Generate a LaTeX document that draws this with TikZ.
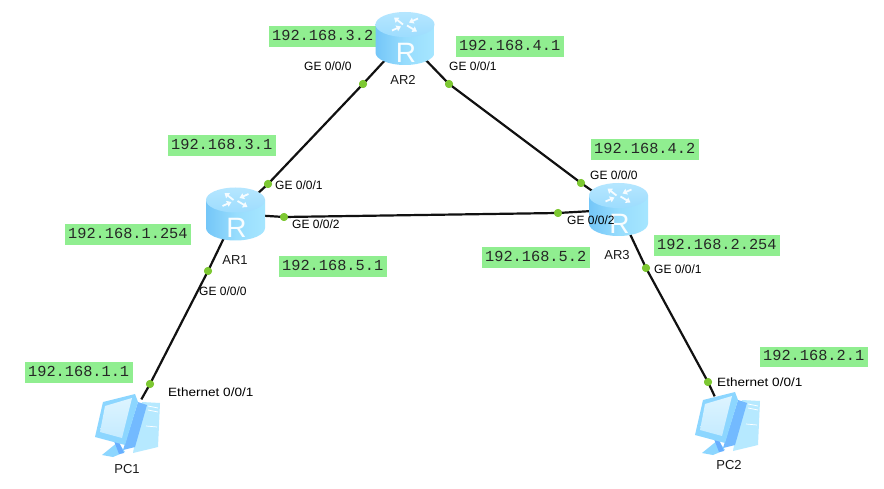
\documentclass[tikz,border=0pt]{standalone}
\usepackage{fontspec}
\setmainfont{Liberation Sans}
\newfontfamily\ipfont{Liberation Mono}
\usetikzlibrary{arrows.meta}
\definecolor{ipgreen}{HTML}{90EE90}
\definecolor{portdot}{HTML}{7DC832}
\definecolor{linkblack}{HTML}{111111}
\definecolor{rtop}{HTML}{A8E2FF}
\definecolor{rside}{HTML}{74C6F8}
\definecolor{rlight}{HTML}{A6E6FF}
\definecolor{pcframe}{HTML}{8CD6FF}
\definecolor{pcscreen}{HTML}{DDF4FF}
\definecolor{pcdark}{HTML}{68AEFF}
\definecolor{pcpale}{HTML}{B6E9FF}
\tikzset{
  ip/.style={fill=ipgreen,inner xsep=3.5pt,inner ysep=4pt,text height=10pt,text depth=2.5pt,font=\ipfont\fontsize{15.3}{15}\selectfont,anchor=west,text=black!85},
  port/.style={font=\fontsize{12}{12}\selectfont,anchor=west,inner sep=0pt,text=black},
  devname/.style={font=\fontsize{13}{13}\selectfont,inner sep=0pt,text=black!90},
  portdotnode/.style={circle,fill=portdot,minimum size=8pt,inner sep=0pt},
  anchorpt/.style={circle,minimum size=1pt,inner sep=0pt},
  link/.style={draw=linkblack,line width=2.2pt},
  routerarrow/.style={line width=1.8pt,draw=white!90!rtop,-{Triangle[length=4.5pt,width=6pt]}},
  router/.pic={
    % cylinder wall
    \path[left color=rside,right color=rlight,middle color=rlight!70!rside]
      (-29.5,-14) -- (-29.5,14) arc[start angle=180,end angle=0,x radius=29.5,y radius=12.5]
      -- (29.5,-14) -- cycle;
    % cylinder lid
    \path[top color=rtop!85!white,bottom color=rtop!80!rside]
      (0,-14) ellipse[x radius=29.5,y radius=12.5];
    \draw[routerarrow] (-2,-14) -- (-11,-21);
    \draw[routerarrow] (13,-20) -- (4,-16);
    \draw[routerarrow] (-13,-8) -- (-4,-12);
    \draw[routerarrow] (2,-13) -- (12,-7);
    \node[text=white!92!rtop,inner sep=0pt,font=\fontsize{28}{28}\selectfont] at (1,14) {R};
  },
  pcicon/.pic={
    % tower
    \path[fill=pcpale] (15,-26) -- (33,-25) -- (31,19) -- (6,25) -- cycle;
    \path[fill=pcdark!70!pcframe] (11,-26) -- (20,-23) -- (8,19) -- (-4,22) -- cycle;
    \draw[white,line width=.7pt] (21,-22) -- (31,-20) (21,-18) -- (31,-16) (19,-2) -- (30,-1);
    % stand
    \path[fill=pcframe] (-25,27) -- (-9,14) -- (-2,24) -- (-14,29) -- cycle;
    \path[fill=pcdark] (-13,13) -- (-8,14) -- (-3,25) -- (-8,26) -- cycle;
    % monitor
    \path[fill=pcframe] (-24,-26) -- (8,-34) -- (11,-26) -- (-2,17) -- (-32,9) -- cycle;
    \path[top color=pcscreen,bottom color=pcscreen!70!pcframe] (-22,-22) -- (5,-30) -- (-5,10) -- (-27,4) -- cycle;
  },
}
\begin{document}
\begin{tikzpicture}[x=1pt,y=-1pt]
\useasboundingbox[fill=white] (0,0) rectangle (884,489);

% attachment points of the devices
\node[anchorpt] (ar1) at (235.5,214) {};
\node[anchorpt] (ar2) at (405,38.5) {};
\node[anchorpt] (ar3) at (618.5,209.5) {};
\node[anchorpt] (pc1) at (141,400) {};
\node[anchorpt] (pc2) at (715,397) {};

% port markers
\node[portdotnode] (p12a) at (268,184) {};
\node[portdotnode] (p12b) at (363,84) {};
\node[portdotnode] (p23a) at (449,84) {};
\node[portdotnode] (p23b) at (581,183) {};
\node[portdotnode] (p13a) at (284,217) {};
\node[portdotnode] (p13b) at (558,213) {};
\node[portdotnode] (p1pa) at (208,271) {};
\node[portdotnode] (p1pb) at (150,384) {};
\node[portdotnode] (p3pa) at (646,268) {};
\node[portdotnode] (p3pb) at (708,382) {};

% links
\draw[link] (ar1) -- (p12a.center) -- (p12b.center) -- (ar2);
\draw[link] (ar2) -- (p23a.center) -- (p23b.center) -- (ar3);
\draw[link] (ar1) -- (p13a.center) -- (p13b.center) -- (ar3);
\draw[link] (ar1) -- (p1pa.center) -- (p1pb.center) -- (pc1);
\draw[link] (ar3) -- (p3pa.center) -- (p3pb.center) -- (pc2);

% markers above the links
\foreach \d in {p12a,p12b,p23a,p23b,p13a,p13b,p1pa,p1pb,p3pa,p3pb}
  \fill[portdot] (\d) circle[radius=4];

% address tags
\node[ip] (a1) at (268.5,36.5) {192.168.3.2};
\node[ip] (a2) at (455.5,46.5) {192.168.4.1};
\node[ip] (a3) at (167.5,145.5) {192.168.3.1};
\node[ip] (a4) at (590.5,149.5) {192.168.4.2};
\node[ip] (a5) at (64.5,234.5) {192.168.1.254};
\node[ip] (a6) at (653.5,245.5) {192.168.2.254};
\node[ip] (a7) at (278.5,266.5) {192.168.5.1};
\node[ip] (a8) at (481.5,257.5) {192.168.5.2};
\node[ip] (a9) at (24.5,372.5) {192.168.1.1};
\node[ip] (a10) at (759.5,357) {192.168.2.1};

% device icons
\pic at (ar1) {router};
\pic at (ar2) {router};
\pic at (ar3) {router};
\pic at (127,428) {pcicon};
\pic at (727,426) {pcicon};

% device names
\node[devname] (nar1) at (235,260) {AR1};
\node[devname] (nar2) at (403,80) {AR2};
\node[devname] (nar3) at (617,255) {AR3};
\node[devname] (npc1) at (127,469) {PC1};
\node[devname] (npc2) at (729,465) {PC2};

% port names
\node[port] (l1) at (304,66) {GE 0/0/0};
\node[port] (l2) at (449,66) {GE 0/0/1};
\node[port] (l3) at (275,185) {GE 0/0/1};
\node[port] (l4) at (292,224) {GE 0/0/2};
\node[port] (l5) at (590,175) {GE 0/0/0};
\node[port] (l6) at (567,220) {GE 0/0/2};
\node[port] (l7) at (199,291) {GE 0/0/0};
\node[port] (l8) at (654,269) {GE 0/0/1};
\node[port] (l9) at (168,392) {\scalebox{1.13}[1]{Ethernet 0/0/1}};
\node[port] (l10) at (717,382) {\scalebox{1.13}[1]{Ethernet 0/0/1}};
\end{tikzpicture}
\end{document}
